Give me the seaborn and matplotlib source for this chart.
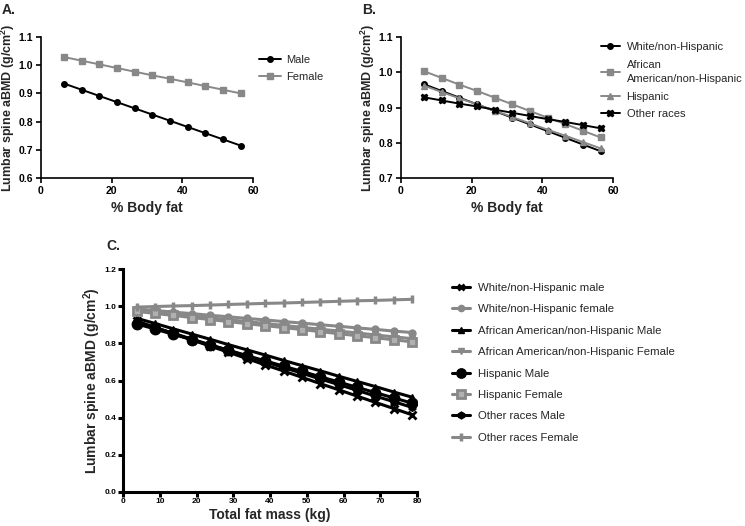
import matplotlib
matplotlib.use("Agg")
import matplotlib.pyplot as plt
import seaborn as sns
import numpy as np
import pandas as pd

sns.set_theme(style="ticks")
plt.rcParams['font.family'] = ['Liberation Sans', 'DejaVu Sans']
plt.rcParams['mathtext.fontset'] = 'custom'
plt.rcParams['mathtext.rm'] = 'Liberation Sans'
plt.rcParams['mathtext.bf'] = 'Liberation Sans:bold'

# ---------------- data ----------------
bodyfat_x = [6.5, 11.5, 16.5, 21.5, 26.5, 31.5, 36.5, 41.5, 46.5, 51.5, 56.5]
a_male = [0.935, 0.913, 0.891, 0.869, 0.847, 0.825, 0.803, 0.781, 0.759, 0.737, 0.715]
a_female = [1.029, 1.016, 1.003, 0.990, 0.977, 0.964, 0.952, 0.939, 0.926, 0.913, 0.900]

b_white = [0.966, 0.947, 0.928, 0.909, 0.890, 0.871, 0.852, 0.833, 0.814, 0.795, 0.776]
b_afam = [1.003, 0.984, 0.965, 0.947, 0.928, 0.909, 0.890, 0.871, 0.853, 0.834, 0.815]
b_hisp = [0.962, 0.944, 0.926, 0.909, 0.891, 0.873, 0.855, 0.837, 0.820, 0.802, 0.784]
b_other = [0.929, 0.920, 0.911, 0.903, 0.894, 0.885, 0.876, 0.867, 0.859, 0.850, 0.841]

fatmass_x = [3.7, 8.7, 13.7, 18.7, 23.7, 28.7, 33.7, 38.7, 43.7, 48.7, 53.7, 58.7,
             63.7, 68.7, 73.7, 78.7]
c_white_m = [0.920, 0.886, 0.853, 0.819, 0.785, 0.752, 0.718, 0.684, 0.651, 0.617,
             0.583, 0.550, 0.516, 0.482, 0.449, 0.415]
c_white_f = [0.985, 0.977, 0.968, 0.960, 0.951, 0.943, 0.934, 0.926, 0.917, 0.909,
             0.900, 0.892, 0.883, 0.875, 0.866, 0.858]
c_afam_m = [0.935, 0.907, 0.878, 0.850, 0.822, 0.793, 0.765, 0.737, 0.708, 0.680,
            0.652, 0.623, 0.595, 0.567, 0.538, 0.510]
c_afam_f = [0.978, 0.968, 0.958, 0.947, 0.937, 0.927, 0.917, 0.907, 0.896, 0.886,
            0.876, 0.866, 0.856, 0.845, 0.835, 0.825]
c_hisp_m = [0.905, 0.877, 0.848, 0.820, 0.791, 0.763, 0.734, 0.706, 0.677, 0.649,
            0.620, 0.592, 0.563, 0.535, 0.506, 0.478]
c_hisp_f = [0.972, 0.961, 0.950, 0.939, 0.928, 0.917, 0.906, 0.895, 0.885, 0.874,
            0.863, 0.852, 0.841, 0.830, 0.819, 0.808]
c_other_m = [0.915, 0.884, 0.854, 0.823, 0.792, 0.762, 0.731, 0.700, 0.670, 0.639,
             0.608, 0.578, 0.547, 0.516, 0.486, 0.455]
c_other_f = [0.995, 0.998, 1.001, 1.003, 1.006, 1.009, 1.012, 1.015, 1.017, 1.020,
             1.023, 1.026, 1.029, 1.031, 1.034, 1.037]

a_labels = ["Male", "Female"]
b_labels = ["White/non-Hispanic", "African\nAmerican/non-Hispanic", "Hispanic", "Other races"]
c_labels = ["White/non-Hispanic male", "White/non-Hispanic female",
            "African American/non-Hispanic Male", "African American/non-Hispanic Female",
            "Hispanic Male", "Hispanic Female", "Other races Male", "Other races Female"]

BLACK = "#000000"
GRAY = "#888888"
ylab = r"Lumbar spine aBMD (g/cm$^{\mathbf{2}}$)"

fig = plt.figure(figsize=(7.45, 5.26), dpi=100)
W, H = 745.0, 526.0


def add_axes(x0, x1, ytop, ybot):
    return fig.add_axes([x0 / W, 1 - ybot / H, (x1 - x0) / W, (ybot - ytop) / H])


def style(ax, lw, tickfs, pad=2):
    sns.despine(ax=ax)
    for s in ("left", "bottom"):
        ax.spines[s].set_linewidth(lw)
        ax.spines[s].set_color("black")
    ax.tick_params(direction="out", length=3.5, width=lw, colors="black",
                   labelsize=tickfs, pad=pad)
    for t in ax.get_xticklabels() + ax.get_yticklabels():
        t.set_fontweight("bold")


def draw(ax, x, y, color, marker, ms, lw, label, mew=1.0, mfc=None):
    sns.lineplot(x=x, y=y, ax=ax, color=color, marker=marker, markersize=ms,
                 linewidth=lw, label=label, markeredgecolor=color,
                 markerfacecolor=mfc if mfc else color, markeredgewidth=mew)

# ---------------- Panel A ----------------
axA = add_axes(41, 253, 37, 178)
draw(axA, bodyfat_x, a_male, BLACK, "o", 4, 1.4, a_labels[0])
draw(axA, bodyfat_x, a_female, GRAY, "s", 4, 1.4, a_labels[1])
axA.set_xlim(0, 60)
axA.set_ylim(0.6, 1.1)
axA.set_xticks([0, 20, 40, 60])
axA.set_yticks([0.6, 0.7, 0.8, 0.9, 1.0, 1.1])
axA.set_yticklabels(["0.6", "0.7", "0.8", "0.9", "1.0", "1.1"])
axA.set_xlabel("% Body fat", fontsize=10, fontweight="bold", labelpad=4)
axA.set_ylabel(ylab, fontsize=9, fontweight="bold", labelpad=1)
style(axA, 1.2, 7.5)
axA.legend(loc="upper left", bbox_to_anchor=(259 / W, 1 - 55 / H),
           bbox_transform=fig.transFigure, frameon=False, fontsize=8,
           handlelength=2.0, handletextpad=0.4, labelspacing=0.6, borderpad=0,
           borderaxespad=0)
fig.text(2 / W, 1 - 10 / H, "A.", fontsize=10, fontweight="bold", va="center")

# ---------------- Panel B ----------------
axB = add_axes(401, 613, 37, 178)
draw(axB, bodyfat_x, b_white, BLACK, "o", 4, 1.4, b_labels[0])
draw(axB, bodyfat_x, b_afam, GRAY, "s", 4, 1.4, b_labels[1])
draw(axB, bodyfat_x, b_hisp, GRAY, "^", 4, 1.4, b_labels[2])
draw(axB, bodyfat_x, b_other, BLACK, "X", 5, 1.4, b_labels[3])
axB.set_xlim(0, 60)
axB.set_ylim(0.7, 1.1)
axB.set_xticks([0, 20, 40, 60])
axB.set_yticks([0.7, 0.8, 0.9, 1.0, 1.1])
axB.set_yticklabels(["0.7", "0.8", "0.9", "1.0", "1.1"])
axB.set_xlabel("% Body fat", fontsize=10, fontweight="bold", labelpad=4)
axB.set_ylabel(ylab, fontsize=9, fontweight="bold", labelpad=1)
style(axB, 1.2, 7.5)
legB = axB.legend(loc="upper left", bbox_to_anchor=(601 / W, 1 - 42 / H),
                  bbox_transform=fig.transFigure, frameon=False, fontsize=8,
                  handlelength=1.7, handletextpad=0.6, labelspacing=0.7, borderpad=0,
                  borderaxespad=0)
for t in legB.get_texts():
    t.set_linespacing(1.5)
fig.text(362 / W, 1 - 10 / H, "B.", fontsize=10, fontweight="bold", va="center")

# ---------------- Panel C ----------------
axC = add_axes(123, 417, 269, 492)
LW = 2.2
draw(axC, fatmass_x, c_white_m, BLACK, "x", 5.5, LW, c_labels[0], mew=2.0)
draw(axC, fatmass_x, c_white_f, GRAY, "o", 5, LW, c_labels[1])
draw(axC, fatmass_x, c_afam_m, BLACK, "^", 5, LW, c_labels[2])
draw(axC, fatmass_x, c_afam_f, GRAY, "v", 5, LW, c_labels[3])
draw(axC, fatmass_x, c_hisp_m, BLACK, "o", 7.5, LW, c_labels[4])
draw(axC, fatmass_x, c_hisp_f, GRAY, "s", 6, LW, c_labels[5], mew=2.0, mfc="#b0b0b0")
draw(axC, fatmass_x, c_other_m, BLACK, "h", 5.5, LW, c_labels[6])
draw(axC, fatmass_x, c_other_f, GRAY, "|", 6, LW, c_labels[7], mew=2.5)
axC.set_xlim(0, 80)
axC.set_ylim(0.0, 1.2)
axC.set_xticks(list(range(0, 81, 10)))
axC.set_yticks([0.0, 0.2, 0.4, 0.6, 0.8, 1.0, 1.2])
axC.set_yticklabels(["0.0", "0.2", "0.4", "0.6", "0.8", "1.0", "1.2"])
axC.set_xlabel("Total fat mass (kg)", fontsize=10, fontweight="bold", labelpad=2)
axC.set_ylabel(ylab, fontsize=10, fontweight="bold", labelpad=1)
style(axC, 2.2, 6, pad=1)
axC.legend(loc="upper left", bbox_to_anchor=(452 / W, 1 - 283 / H),
           bbox_transform=fig.transFigure, frameon=False, fontsize=8.2,
           handlelength=1.6, handletextpad=0.7, labelspacing=1.0, borderpad=0,
           borderaxespad=0, markerscale=0.9)
fig.text(106 / W, 1 - 246 / H, "C.", fontsize=10, fontweight="bold", va="center")

fig.savefig("out.png", dpi=100)
